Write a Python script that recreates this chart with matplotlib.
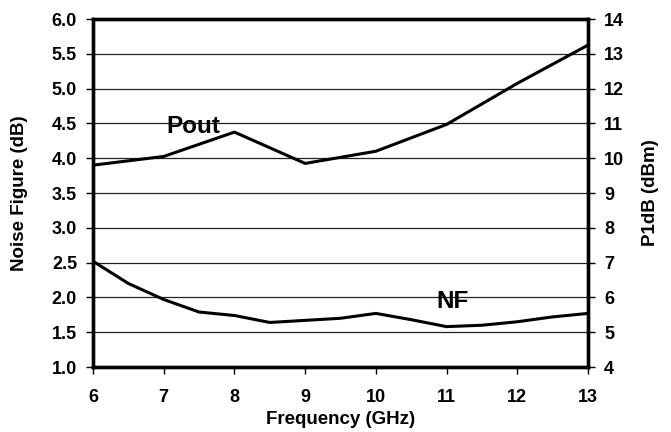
import matplotlib.pyplot as plt

plt.rcParams['font.family'] = ['Liberation Sans', 'DejaVu Sans']
plt.rcParams['font.weight'] = 'bold'

# noise figure, every 0.5 GHz
nf_freq = [6, 6.5, 7, 7.5, 8, 8.5, 9, 9.5, 10, 10.5, 11, 11.5, 12, 12.5, 13]
nf_db = [2.52, 2.20, 1.97, 1.79, 1.74, 1.64, 1.67, 1.70, 1.77, 1.68, 1.58, 1.60, 1.65, 1.72, 1.77]

# output P1dB, every 1 GHz
pout_freq = [6, 7, 8, 9, 10, 11, 12, 13]
pout_dbm = [9.80, 10.05, 10.75, 9.85, 10.20, 10.97, 12.15, 13.25]

fig = plt.figure(figsize=(6.71, 4.32), dpi=100)
ax = fig.add_axes([93 / 671, 1 - 367 / 432, (588 - 93) / 671, (367 - 19) / 432])
ax2 = ax.twinx()

ax.plot(nf_freq, nf_db, color='black', lw=2.2)
ax2.plot(pout_freq, pout_dbm, color='black', lw=2.2)

ax.set_xlim(6, 13)
ax.set_ylim(1.0, 6.0)
ax2.set_ylim(4, 14)
ax.set_xticks(range(6, 14))
ax.set_yticks([1.0 + 0.5 * i for i in range(11)])
ax.set_yticklabels([f'{1.0 + 0.5 * i:.1f}' for i in range(11)])
ax2.set_yticks(range(4, 15))
ax.grid(axis='y', color='#222222', lw=0.9)
ax.set_axisbelow(True)

for a in (ax, ax2):
    for s in a.spines.values():
        s.set_linewidth(2.4)
    a.tick_params(direction='out', length=5, width=1, labelsize=13, pad=6.5)
ax.tick_params(axis='x', pad=11)

ax.text(7.42, 4.45, 'Pout', fontsize=17.5, fontweight='bold', ha='center', va='center')
ax.text(11.09, 1.94, 'NF', fontsize=17.5, fontweight='bold', ha='center', va='center')

ax.set_xlabel('Frequency (GHz)', fontsize=13.5, fontweight='bold')
ax.set_ylabel('Noise Figure (dB)', fontsize=13.5, fontweight='bold')
ax2.set_ylabel('P1dB (dBm)', fontsize=13.5, fontweight='bold')
ax.xaxis.set_label_coords(0.5, -0.126)
ax.yaxis.set_label_coords(-0.131, 0.5)
ax2.yaxis.set_label_coords(1.109, 0.5)

fig.savefig('out.png', dpi=100)
